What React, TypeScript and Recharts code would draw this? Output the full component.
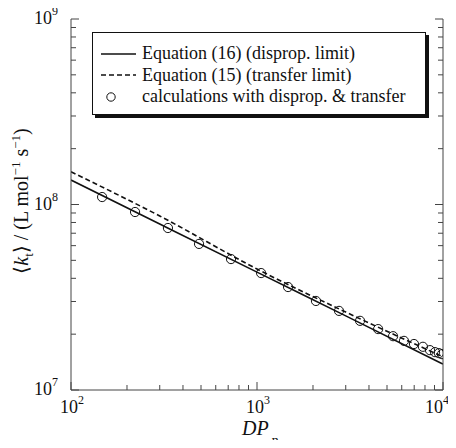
import { ComposedChart, Line, Scatter, XAxis, YAxis, Customized } from "recharts";

// calculations with disproportionation & transfer (open circles)
const calcDP = [147, 221, 332, 488, 725, 1052, 1469, 2075, 2760, 3580, 4480, 5390, 6170, 6980, 7800, 8510, 9060, 9510, 9880];
const calcKt = [1.097e8, 9.11e7, 7.47e7, 6.13e7, 5.08e7, 4.27e7, 3.59e7, 3.02e7, 2.67e7, 2.36e7, 2.13e7, 1.95e7, 1.84e7, 1.77e7, 1.71e7, 1.64e7, 1.6e7, 1.58e7, 1.56e7];

// model curves
const eqDP = [100, 300, 1000, 3000, 10000];
const eq16 = [1.355e8, 7.85e7, 4.32e7, 2.51e7, 1.38e7];
const eq15 = [1.5e8, 8.67e7, 4.49e7, 2.63e7, 1.51e7];

const xTicks = [100, 200, 300, 400, 500, 600, 700, 800, 900, 1000, 2000, 3000, 4000, 5000, 6000, 7000, 8000, 9000, 10000];
const yTicks = [
  1e7, 2e7, 3e7, 4e7, 5e7, 6e7, 7e7, 8e7, 9e7,
  1e8, 2e8, 3e8, 4e8, 5e8, 6e8, 7e8, 8e8, 9e8, 1e9,
];

const legendItems = [
  { label: "Equation (16) (disprop. limit)", kind: "solid" },
  { label: "Equation (15) (transfer limit)", kind: "dashed" },
  { label: "calculations with disprop. & transfer", kind: "circle" },
];

const FONT = "'Liberation Serif', 'Times New Roman', serif";
const INK = "#111";
const FRAME = "#444";

const calcData = calcDP.map((x, i) => ({ x, y: calcKt[i] }));
const eq16Data = eqDP.map((x, i) => ({ x, y: eq16[i] }));
const eq15Data = eqDP.map((x, i) => ({ x, y: eq15[i] }));

function decade(v: number) {
  const e = Math.log10(v);
  return Math.abs(e - Math.round(e)) < 1e-6 ? Math.round(e) : null;
}

function XTick(props: any) {
  const { x, y, payload, side } = props;
  const e = decade(payload.value);
  const len = e !== null ? 8 : 5;
  const dir = side === "top" ? 1 : -1;
  // last label is kept inside the page, as in the original
  const last = payload.value === xTicks[xTicks.length - 1];
  return (
    <g>
      <line x1={x} y1={y} x2={x} y2={y + dir * len} stroke={FRAME} strokeWidth={1} />
      {side !== "top" && e !== null && (
        <text
          x={last ? x + 6 : x + 1}
          y={y + 23}
          textAnchor={last ? "end" : "middle"}
          style={{ fontFamily: FONT }}
          fontSize={18}
          fill={INK}
        >
          10
          <tspan dy={-9} fontSize={12}>{e}</tspan>
        </text>
      )}
    </g>
  );
}

function YTick(props: any) {
  const { x, y, payload, side } = props;
  const e = decade(payload.value);
  const len = e !== null ? 8 : 5;
  const dir = side === "right" ? -1 : 1;
  return (
    <g>
      <line x1={x} y1={y} x2={x + dir * len} y2={y} stroke={FRAME} strokeWidth={1} />
      {side !== "right" && e !== null && (
        <text x={x - 13} y={y + 5} textAnchor="end" style={{ fontFamily: FONT }} fontSize={18} fill={INK}>
          10
          <tspan dy={-9} fontSize={12}>{e}</tspan>
        </text>
      )}
    </g>
  );
}

function OpenCircle(props: any) {
  const { cx, cy } = props;
  return <circle cx={cx} cy={cy} r={4.6} fill="none" stroke={INK} strokeWidth={1} />;
}

function AxisTitles() {
  return (
    <g style={{ fontFamily: FONT }} fill={INK}>
      <text x={242} y={435} fontSize={20} fontStyle="italic">
        DP
        <tspan dx={3} dy={10} fontSize={14} fontStyle="normal">n</tspan>
      </text>
      <text transform="translate(28,201) rotate(-90)" textAnchor="middle" fontSize={20}>
        {"\u27E8"}
        <tspan fontStyle="italic">k</tspan>
        <tspan dy={5} fontSize={13}>t</tspan>
        <tspan dy={-5}>{"\u27E9 / (L mol"}</tspan>
        <tspan dy={-8} fontSize={13}>{"\u22121"}</tspan>
        <tspan dy={8}>{" s"}</tspan>
        <tspan dy={-8} fontSize={13}>{"\u22121"}</tspan>
        <tspan dy={8}>)</tspan>
      </text>
    </g>
  );
}

function LegendBox() {
  return (
    <div
      style={{
        position: "absolute",
        left: 92,
        top: 32,
        width: 334,
        height: 83,
        border: "1px solid #111",
        background: "#fff",
        boxShadow: "3px 3px 0 #111",
        fontFamily: FONT,
        fontSize: 18,
        color: INK,
        padding: "10px 0 0 0",
        boxSizing: "border-box",
      }}
    >
      {legendItems.map((it) => (
        <div key={it.label} style={{ display: "flex", alignItems: "center", height: 21.5, whiteSpace: "nowrap" }}>
          <svg width={49} height={20} style={{ flex: "none" }}>
            {it.kind === "solid" && <line x1={8} y1={10} x2={43} y2={10} stroke={INK} strokeWidth={1.5} />}
            {it.kind === "dashed" && (
              <line x1={8} y1={10} x2={43} y2={10} stroke={INK} strokeWidth={1.5} strokeDasharray="5 3" />
            )}
            {it.kind === "circle" && <circle cx={18} cy={10} r={4.2} fill="none" stroke={INK} strokeWidth={1} />}
          </svg>
          <span>{it.label}</span>
        </div>
      ))}
    </div>
  );
}

export default function App() {
  return (
    <div style={{ position: "relative", width: 456, height: 448, margin: -8, background: "#fff" }}>
      <ComposedChart width={456} height={448} margin={{ top: 19, right: 0, bottom: 0, left: 0 }}>
        <XAxis
          xAxisId="b"
          type="number"
          dataKey="x"
          scale="log"
          domain={[100, 10000]}
          ticks={xTicks}
          interval={0}
          allowDataOverflow
          height={58}
          tickSize={0}
          tickMargin={0}
          tick={<XTick side="bottom" />}
          axisLine={{ stroke: FRAME }}
        />
        <XAxis
          xAxisId="t"
          orientation="top"
          type="number"
          dataKey="x"
          scale="log"
          domain={[100, 10000]}
          ticks={xTicks}
          interval={0}
          allowDataOverflow
          height={0}
          tickSize={0}
          tickMargin={0}
          tick={<XTick side="top" />}
          axisLine={{ stroke: FRAME }}
        />
        <YAxis
          yAxisId="l"
          type="number"
          dataKey="y"
          scale="log"
          domain={[1e7, 1e9]}
          ticks={yTicks}
          interval={0}
          allowDataOverflow
          width={71}
          tickSize={0}
          tickMargin={0}
          tick={<YTick side="left" />}
          axisLine={{ stroke: FRAME }}
        />
        <YAxis
          yAxisId="r"
          orientation="right"
          type="number"
          dataKey="y"
          scale="log"
          domain={[1e7, 1e9]}
          ticks={yTicks}
          interval={0}
          allowDataOverflow
          width={13}
          tickSize={0}
          tickMargin={0}
          tick={<YTick side="right" />}
          axisLine={{ stroke: FRAME }}
        />
        <Line
          xAxisId="b"
          yAxisId="l"
          data={eq16Data}
          dataKey="y"
          type="monotone"
          stroke={INK}
          strokeWidth={1.6}
          dot={false}
          isAnimationActive={false}
        />
        <Line
          xAxisId="b"
          yAxisId="l"
          data={eq15Data}
          dataKey="y"
          type="monotone"
          stroke={INK}
          strokeWidth={1.6}
          strokeDasharray="5 3"
          dot={false}
          isAnimationActive={false}
        />
        <Scatter
          xAxisId="b"
          yAxisId="l"
          data={calcData}
          dataKey="y"
          shape={<OpenCircle />}
          isAnimationActive={false}
        />
        <Customized component={AxisTitles} />
      </ComposedChart>
      <LegendBox />
    </div>
  );
}
